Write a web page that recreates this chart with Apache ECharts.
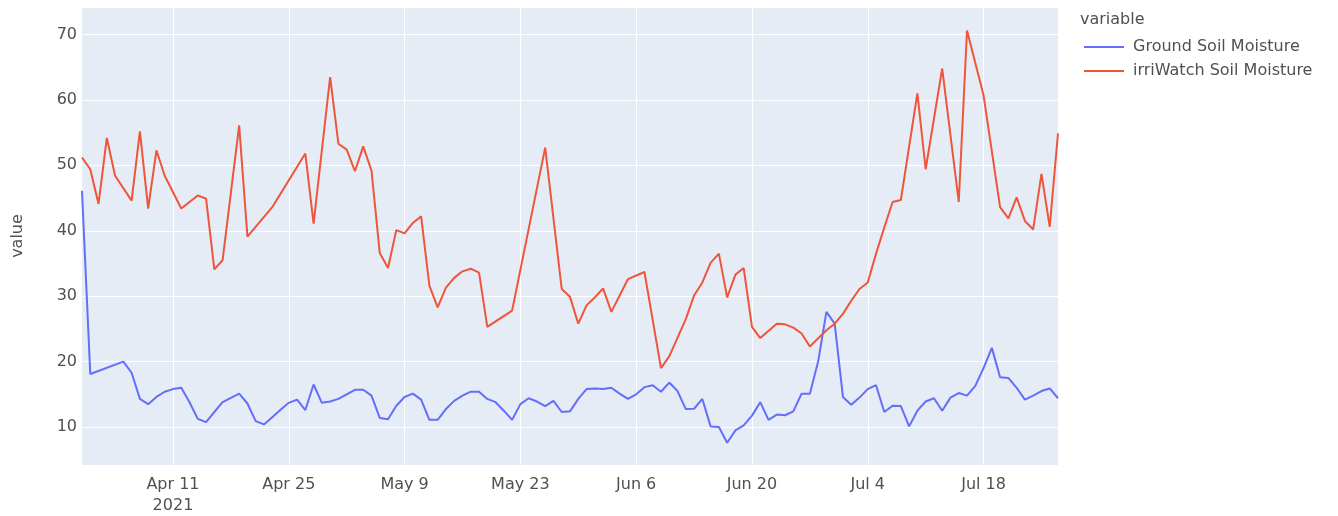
<!DOCTYPE html>
<html>
<head>
<meta charset="utf-8">
<script src="https://cdn.jsdelivr.net/npm/echarts@6/dist/echarts.min.js"></script>
<style>
html,body{margin:0;padding:0;background:#fff;}
#chart{width:1338px;height:516px;}
</style>
</head>
<body>
<div id="chart"></div>
<script>
// ---- Data ----
const seriesNames = ['Ground Soil Moisture', 'irriWatch Soil Moisture'];

const groundDates = [
 '2021-03-31','2021-04-01','2021-04-05','2021-04-06','2021-04-07','2021-04-08','2021-04-09','2021-04-10','2021-04-11','2021-04-12',
 '2021-04-13','2021-04-14','2021-04-15','2021-04-16','2021-04-17','2021-04-19','2021-04-20','2021-04-21','2021-04-22','2021-04-23',
 '2021-04-24','2021-04-25','2021-04-26','2021-04-27','2021-04-28','2021-04-29','2021-04-30','2021-05-01','2021-05-02','2021-05-03',
 '2021-05-04','2021-05-05','2021-05-06','2021-05-07','2021-05-08','2021-05-09','2021-05-10','2021-05-11','2021-05-12','2021-05-13',
 '2021-05-14','2021-05-15','2021-05-16','2021-05-17','2021-05-18','2021-05-19','2021-05-20','2021-05-21','2021-05-22','2021-05-23',
 '2021-05-24','2021-05-25','2021-05-26','2021-05-27','2021-05-28','2021-05-29','2021-05-30','2021-05-31','2021-06-01','2021-06-02',
 '2021-06-03','2021-06-04','2021-06-05','2021-06-06','2021-06-07','2021-06-08','2021-06-09','2021-06-10','2021-06-11','2021-06-12',
 '2021-06-13','2021-06-14','2021-06-15','2021-06-16','2021-06-17','2021-06-18','2021-06-19','2021-06-20','2021-06-21','2021-06-22',
 '2021-06-23','2021-06-24','2021-06-25','2021-06-26','2021-06-27','2021-06-28','2021-06-29','2021-06-30','2021-07-01','2021-07-02',
 '2021-07-03','2021-07-04','2021-07-05','2021-07-06','2021-07-07','2021-07-08','2021-07-09','2021-07-10','2021-07-11','2021-07-12',
 '2021-07-13','2021-07-14','2021-07-15','2021-07-16','2021-07-17','2021-07-18','2021-07-19','2021-07-20','2021-07-21','2021-07-22',
 '2021-07-23','2021-07-24','2021-07-25','2021-07-26','2021-07-27'
];
const groundValues = [
 46.1,18.1,20.0,18.3,14.3,13.5,14.6,15.4,15.8,16.0,
 13.8,11.25,10.75,12.3,13.8,15.1,13.6,10.9,10.4,11.5,
 12.65,13.7,14.2,12.6,16.5,13.7,13.9,14.3,15.0,15.7,
 15.7,14.8,11.4,11.2,13.25,14.6,15.1,14.2,11.1,11.1,
 12.75,14.0,14.8,15.4,15.4,14.3,13.8,12.5,11.1,13.5,
 14.4,13.9,13.2,14.0,12.3,12.4,14.3,15.8,15.9,15.8,
 16.0,15.1,14.3,15.0,16.1,16.4,15.4,16.8,15.5,12.75,
 12.8,14.3,10.1,10.0,7.6,9.5,10.25,11.75,13.8,11.1,
 11.9,11.8,12.4,15.1,15.1,20.0,27.6,25.8,14.6,13.4,
 14.5,15.8,16.4,12.3,13.25,13.2,10.1,12.5,13.9,14.4,
 12.5,14.5,15.2,14.8,16.3,19.0,22.1,17.6,17.5,16.0,
 14.2,14.8,15.5,15.9,14.4
];

const irriDates = [
 '2021-03-31','2021-04-01','2021-04-02','2021-04-03','2021-04-04','2021-04-06','2021-04-07','2021-04-08','2021-04-09','2021-04-10',
 '2021-04-12','2021-04-14','2021-04-15','2021-04-16','2021-04-17','2021-04-19','2021-04-20','2021-04-23','2021-04-27','2021-04-28',
 '2021-04-30','2021-05-01','2021-05-02','2021-05-03','2021-05-04','2021-05-05','2021-05-06','2021-05-07','2021-05-08','2021-05-09',
 '2021-05-10','2021-05-11','2021-05-12','2021-05-13','2021-05-14','2021-05-15','2021-05-16','2021-05-17','2021-05-18','2021-05-19',
 '2021-05-22','2021-05-26','2021-05-28','2021-05-29','2021-05-30','2021-05-31','2021-06-01','2021-06-02','2021-06-03','2021-06-05',
 '2021-06-07','2021-06-09','2021-06-10','2021-06-12','2021-06-13','2021-06-14','2021-06-15','2021-06-16','2021-06-17','2021-06-18',
 '2021-06-19','2021-06-20','2021-06-21','2021-06-23','2021-06-24','2021-06-25','2021-06-26','2021-06-27','2021-06-29','2021-06-30',
 '2021-07-01','2021-07-02','2021-07-03','2021-07-04','2021-07-05','2021-07-06','2021-07-07','2021-07-08','2021-07-10','2021-07-11',
 '2021-07-13','2021-07-15','2021-07-16','2021-07-18','2021-07-20','2021-07-21','2021-07-22','2021-07-23','2021-07-24','2021-07-25',
 '2021-07-26','2021-07-27'
];
const irriValues = [
 51.2,49.4,44.1,54.2,48.4,44.6,55.2,43.4,52.3,48.4,
 43.4,45.4,44.9,34.1,35.5,56.1,39.1,43.6,51.8,41.1,
 63.5,53.3,52.4,49.1,52.9,49.2,36.6,34.3,40.1,39.6,
 41.2,42.2,31.6,28.3,31.3,32.8,33.8,34.2,33.6,25.3,
 27.8,52.7,31.1,29.9,25.8,28.6,29.8,31.2,27.6,32.6,
 33.7,19.0,20.8,26.5,30.1,32.1,35.1,36.5,29.8,33.3,
 34.3,25.3,23.6,25.8,25.7,25.2,24.3,22.3,24.8,25.8,
 27.3,29.3,31.1,32.1,36.5,40.5,44.4,44.7,61.0,49.4,
 64.8,44.4,70.6,60.7,43.6,41.9,45.1,41.5,40.2,48.7,
 40.6,54.9
];

const firstDay = '2021-03-31';
const lastDay = '2021-07-27';
const monthNames = ['Jan','Feb','Mar','Apr','May','Jun','Jul','Aug','Sep','Oct','Nov','Dec'];

// ---- Build category axis (one entry per calendar day) ----
function isoDay(t){ return new Date(t).toISOString().slice(0,10); }
const categories = [];
for (let t = Date.parse(firstDay + 'T00:00:00Z'); t <= Date.parse(lastDay + 'T00:00:00Z'); t += 86400000) {
  categories.push(isoDay(t));
}
function align(dates, values){
  const m = {};
  dates.forEach((d,i)=>{ m[d] = values[i]; });
  return categories.map(c => (c in m) ? m[c] : null);
}
const firstTickIdx = categories.indexOf('2021-04-11');
function isTick(idx){ return idx >= firstTickIdx && (idx - firstTickIdx) % 14 === 0; }

const FONT = 'DejaVu Sans';
const TXT = '#505050';
const chart = echarts.init(document.getElementById('chart'), null, {renderer:'canvas'});
chart.setOption({
  animation: false,
  backgroundColor: '#ffffff',
  title: {
    text: 'variable', left: 1080, top: 12, padding: 0,
    textStyle: {fontFamily: FONT, fontSize: 16, fontWeight: 'normal', color: TXT}
  },
  legend: {
    orient: 'vertical', left: 1084, top: 39, itemGap: 8, padding: 0,
    itemWidth: 40, itemHeight: 2, icon: 'rect',
    textStyle: {fontFamily: FONT, fontSize: 16, color: TXT, padding: [0,0,0,4]},
    data: seriesNames
  },
  grid: {left: 82, right: 280, top: 7, bottom: 44, show: true, backgroundColor: '#E5ECF6', borderWidth: 0},
  xAxis: {
    type: 'category', data: categories, boundaryGap: false,
    axisLine: {show: false}, axisTick: {show: false},
    splitLine: {show: true, interval: (i) => isTick(i), lineStyle: {color: '#ffffff', width: 1}},
    axisLabel: {
      interval: (i) => isTick(i), margin: 9,
      fontFamily: FONT, fontSize: 16, color: TXT, lineHeight: 21,
      formatter: (v, i) => {
        const d = new Date(v + 'T00:00:00Z');
        const s = monthNames[d.getUTCMonth()] + ' ' + d.getUTCDate();
        return i === firstTickIdx ? s + '\n' + d.getUTCFullYear() : s;
      }
    }
  },
  yAxis: {
    type: 'value', min: 4.2, max: 74.2, splitNumber: 7,
    name: 'value', nameLocation: 'middle', nameGap: 56,
    nameTextStyle: {fontFamily: FONT, fontSize: 16, color: TXT},
    axisLine: {show: false}, axisTick: {show: false},
    axisLabel: {showMinLabel: false, showMaxLabel: false, margin: 5, fontFamily: FONT, fontSize: 16, color: TXT},
    splitLine: {show: true, lineStyle: {color: '#ffffff', width: 1}}
  },
  series: [
    {name: seriesNames[0], type: 'line', data: align(groundDates, groundValues), connectNulls: true,
     showSymbol: false, symbol: 'none', lineStyle: {color: '#636EFA', width: 2}, itemStyle: {color: '#636EFA'}},
    {name: seriesNames[1], type: 'line', data: align(irriDates, irriValues), connectNulls: true,
     showSymbol: false, symbol: 'none', lineStyle: {color: '#EF553B', width: 2}, itemStyle: {color: '#EF553B'}}
  ]
});
</script>
</body>
</html>
